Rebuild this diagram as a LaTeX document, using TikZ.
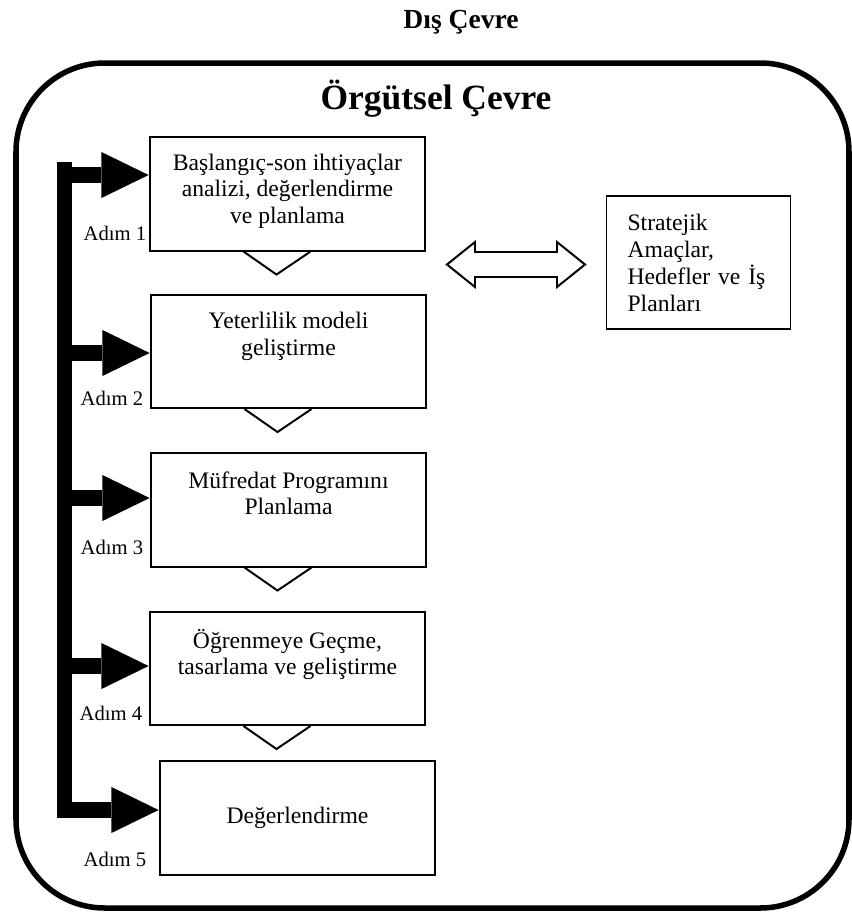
\documentclass[tikz,border=0pt]{standalone}
\usepackage{fontspec}
\setmainfont{Liberation Serif}
\usepackage{tikz}
\usetikzlibrary{positioning,
				arrows.meta,
				calc}

\begin{document}
\begin{tikzpicture}[x=0.5076pt,y=-0.5076pt,
		stepbox/.style={draw,line width=1pt,minimum width=140pt,minimum height=57.4pt,inner sep=0pt,font=\fontsize{12}{13.5}\selectfont},
		steptext/.style={align=center,inner sep=0pt,font=\fontsize{12}{13.5}\selectfont},
		steplabel/.style={font=\fontsize{10.5}{12}\selectfont},
		bigarrow/.style={line width=8pt,-{Triangle[length=24pt,width=23.4pt,line width=0pt]}},
		chevron/.style={line width=1pt}]
		\useasboundingbox (0,0) rectangle (852,913);

		\node[font=\fontsize{14}{16}\selectfont\bfseries] (dis) at (461,22) {Dış Çevre};
		\draw[line width=2.8pt,rounded corners=45pt] (16,63) rectangle (849,908);
		\node[font=\fontsize{18}{20}\selectfont\bfseries] (orgut) at (436,99) {Örgütsel Çevre};

		\node[stepbox] (b1) at (287.5,194) {};
		\node[steptext,below=8.6pt of b1.north] (t1) {Başlangıç-son ihtiyaçlar\\analizi, değerlendirme\\ve planlama};
		\node[stepbox] (b2) at (288.5,351.5) {};
		\node[steptext,below=9pt of b2.north] (t2) {Yeterlilik modeli\\geliştirme};
		\node[stepbox] (b3) at (288.5,510) {};
		\node[steptext,below=9.5pt of b3.north] (t3) {Müfredat Programını\\Planlama};
		\node[stepbox] (b4) at (287.5,668.5) {};
		\node[steptext,below=9pt of b4.north] (t4) {Öğrenmeye Geçme,\\tasarlama ve geliştirme};
		\node[stepbox] (b5) at (297.5,818) {Değerlendirme};

		\draw[chevron] ($(b1.south)+(-44,0)$) -- ++(33,23) -- ++(34,-23);
		\draw[chevron] ($(b2.south)+(-44,0)$) -- ++(33,23) -- ++(34,-23);
		\draw[chevron] ($(b3.south)+(-44,0)$) -- ++(33,23) -- ++(34,-23);
		\draw[chevron] ($(b4.south)+(-44,0)$) -- ++(33,23) -- ++(34,-23);

		\node[draw,line width=1pt,minimum width=92.9pt,minimum height=67.5pt,text width=72pt,align=left,inner xsep=10.7pt,font=\fontsize{12}{13.7}\selectfont] (goals) at (698.5,262.5) {Stratejik\\Amaçlar,\\Hedefler ve İş\\Planları};
		\draw[line width=1pt] (447,264.5) -- (475,242) -- (475,252) -- (557,252) -- (557,242) -- (585,264.5) -- (557,287) -- (557,277) -- (475,277) -- (475,287) -- cycle;

		\coordinate (bartop) at (64.5,162);
		\coordinate (barbot) at (64.5,818);
		\draw[line width=7.6pt] (bartop) -- (barbot);
		\coordinate (s1) at (64.5,175);
		\coordinate (s2) at (64.5,353);
		\coordinate (s3) at (64.5,498);
		\coordinate (s4) at (64.5,666);
		\coordinate (s5) at (64.5,810);
		\draw[bigarrow] (s1) -- (s1 -| b1.west);
		\draw[bigarrow] (s2) -- (s2 -| b2.west);
		\draw[bigarrow] (s3) -- (s3 -| b3.west);
		\draw[bigarrow] (s4) -- (s4 -| b4.west);
		\draw[bigarrow] (s5) -- (s5 -| b5.west);

		\node[steplabel] (a1) at (115,233) {Adım 1};
		\node[steplabel] (a2) at (112,398) {Adım 2};
		\node[steplabel] (a3) at (112,547) {Adım 3};
		\node[steplabel] (a4) at (111,713) {Adım 4};
		\node[steplabel] (a5) at (115,859) {Adım 5};
\end{tikzpicture}
\end{document}
